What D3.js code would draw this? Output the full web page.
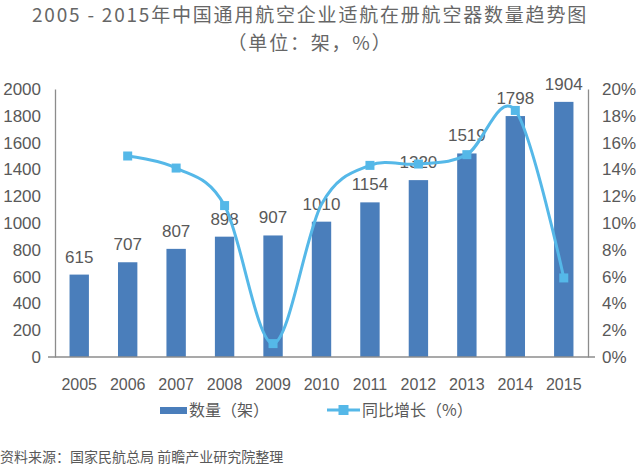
<!DOCTYPE html>
<html>
<head>
<meta charset="utf-8">
<script src="https://cdn.jsdelivr.net/npm/d3@7"></script>
<style>
  body { margin: 0; background: #fff; }
  svg text { font-family: "Liberation Sans", "Noto Sans CJK SC", sans-serif; fill: #595959; }
  .cjk { font-family: "Noto Sans CJK SC", sans-serif; }
</style>
</head>
<body>
<svg width="640" height="467"></svg>
<script>
const years = ['2005','2006','2007','2008','2009','2010','2011','2012','2013','2014','2015'];
const counts = [615, 707, 807, 898, 907, 1010, 1154, 1320, 1519, 1798, 1904];
const growth = [null, 15.0, 14.1, 11.3, 1.0, 11.4, 14.3, 14.4, 15.1, 18.4, 5.9];
const leftTicks = [0, 200, 400, 600, 800, 1000, 1200, 1400, 1600, 1800, 2000];
const rightTicks = [0, 2, 4, 6, 8, 10, 12, 14, 16, 18, 20];

const svg = d3.select('svg');
const barColor = '#4a7ebb';
const lineColor = '#55b8e8';

const x = d3.scaleBand()
    .domain(years)
    .range([55, 588])
    .paddingInner(0.6)
    .paddingOuter(0.3);

const yL = d3.scaleLinear().domain([0, 2000]).range([357, 89]);
const yR = d3.scaleLinear().domain([0, 20]).range([357, 89]);

// titles
svg.append('text')
    .attr('class', 'cjk')
    .attr('x', 310).attr('y', 22)
    .attr('text-anchor', 'middle')
    .style('font-size', '19px')
    .style('letter-spacing', '1.8px')
    .style('fill', '#666')
    .text('2005 - 2015年中国通用航空企业适航在册航空器数量趋势图');
svg.append('text')
    .attr('class', 'cjk')
    .attr('x', 310).attr('y', 50)
    .attr('text-anchor', 'middle')
    .style('font-size', '19px')
    .style('letter-spacing', '1.8px')
    .style('fill', '#666')
    .text('（单位：架，%）');

// bars
svg.selectAll('rect.bar')
    .data(counts)
    .join('rect')
    .attr('class', 'bar')
    .attr('x', (d, i) => x(years[i]))
    .attr('width', x.bandwidth())
    .attr('y', d => yL(d))
    .attr('height', d => yL(0) - yL(d))
    .attr('fill', barColor);

svg.selectAll('text.val')
    .data(counts)
    .join('text')
    .attr('class', 'val')
    .attr('x', (d, i) => x(years[i]) + x.bandwidth() / 2)
    .attr('y', d => yL(d) - 12)
    .attr('text-anchor', 'middle')
    .style('font-size', '17px')
    .text(d => d);

// axes
const leftAxis = svg.append('g')
    .attr('transform', 'translate(55,0)')
    .call(d3.axisLeft(yL).tickValues(leftTicks).tickSize(0).tickPadding(14).tickFormat(d3.format('d')));
const rightAxis = svg.append('g')
    .attr('transform', 'translate(588,0)')
    .call(d3.axisRight(yR).tickValues(rightTicks).tickSize(0).tickPadding(14).tickFormat(d => d + '%'));

[leftAxis, rightAxis].forEach(g => {
    g.select('.domain').attr('stroke', '#8c8c8c').attr('stroke-width', 1.3);
    g.selectAll('text').style('font-size', '17px').attr('fill', '#595959').style('font-family', '"Liberation Sans", sans-serif');
});

// baseline
svg.append('line')
    .attr('x1', 48).attr('x2', 595)
    .attr('y1', yL(0)).attr('y2', yL(0))
    .attr('stroke', '#8c8c8c').attr('stroke-width', 1.3);

svg.selectAll('text.year')
    .data(years)
    .join('text')
    .attr('class', 'year')
    .attr('x', d => x(d) + x.bandwidth() / 2)
    .attr('y', 390)
    .attr('text-anchor', 'middle')
    .style('font-size', '16px')
    .text(d => d);

// growth line
const pts = years.map((y, i) => ({year: y, v: growth[i]})).filter(d => d.v !== null);
const line = d3.line()
    .x(d => x(d.year) + x.bandwidth() / 2)
    .y(d => yR(d.v))
    .curve(d3.curveCardinal);

svg.append('path')
    .datum(pts)
    .attr('d', line)
    .attr('fill', 'none')
    .attr('stroke', lineColor)
    .attr('stroke-width', 3);

// 2010 marker is not shown in the original
svg.selectAll('rect.mk')
    .data(pts.filter(d => d.year !== '2010'))
    .join('rect')
    .attr('class', 'mk')
    .attr('x', d => x(d.year) + x.bandwidth() / 2 - 4.5)
    .attr('y', d => yR(d.v) - 4.5)
    .attr('width', 9).attr('height', 9)
    .attr('fill', lineColor);

// legend
const legend = svg.append('g').attr('transform', 'translate(0,410)');
legend.append('rect')
    .attr('x', 160).attr('y', -3).attr('width', 27).attr('height', 7)
    .attr('fill', barColor);
legend.append('text')
    .attr('class', 'cjk')
    .attr('x', 189).attr('y', 6)
    .style('font-size', '16px')
    .text('数量（架）');
legend.append('line')
    .attr('x1', 327).attr('x2', 360).attr('y1', 0).attr('y2', 0)
    .attr('stroke', lineColor).attr('stroke-width', 3);
legend.append('rect')
    .attr('x', 338.5).attr('y', -5).attr('width', 10).attr('height', 10)
    .attr('fill', lineColor);
legend.append('text')
    .attr('class', 'cjk')
    .attr('x', 362).attr('y', 6)
    .style('font-size', '16px')
    .text('同比增长（%）');

// source
svg.append('text')
    .attr('class', 'cjk')
    .attr('x', 0).attr('y', 462)
    .style('font-size', '14px')
    .attr('fill', '#595959')
    .text('资料来源：国家民航总局 前瞻产业研究院整理');
</script>
</body>
</html>
